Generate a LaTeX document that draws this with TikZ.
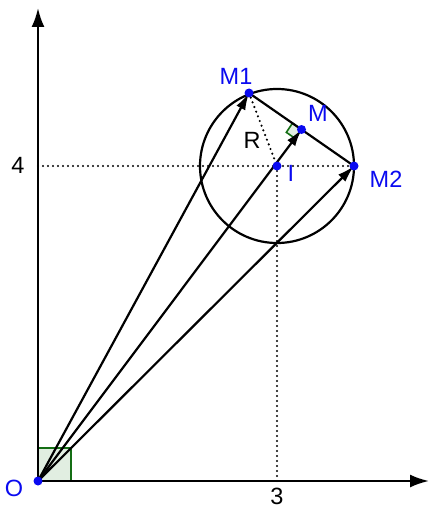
\documentclass[tikz,border=0pt]{standalone}
\usepackage{fontspec}
\setmainfont{Liberation Sans}
\usetikzlibrary{arrows.meta,calc}
\definecolor{ptblue}{RGB}{10,10,240}
\definecolor{anggreen}{RGB}{20,110,20}
\definecolor{angfill}{RGB}{225,238,225}
\tikzset{
  axis/.style={line width=2.3pt,-{Latex[length=19pt,width=13pt]}},
  vec/.style={line width=2.2pt,-{Latex[length=17pt,width=10pt]}},
  guide/.style={line width=2.4pt,dash pattern=on 0pt off 5pt,line cap=round},
  lbl/.style={font=\fontsize{23.5}{26}\selectfont,inner sep=0pt},
  ptlbl/.style={lbl,text=ptblue},
  rangle/.style={draw=anggreen,fill=angfill,line width=1.6pt},
  dot/.style={fill=ptblue}
}
\begin{document}
\begin{tikzpicture}[x=1pt,y=-1pt]
\useasboundingbox (0,0) rectangle (429,508);
\coordinate (O) at (38,481);
\coordinate (I) at (277,166);
\coordinate (M1) at (249,93);
\coordinate (M2) at (354,166);
\coordinate (M) at ($(M1)!0.5!(M2)$);
\coordinate (X) at (429,481);
\coordinate (Y) at (38,8);
\coordinate (Y4) at (38,166);
\coordinate (X3) at (277,481);
\coordinate (Ma) at ($(M)!11pt!(M1)$);
\coordinate (Mb) at ($(M)!11pt!(I)$);
\coordinate (Mc) at ($(Ma)+(Mb)-(M)$);
% right angle at O
\filldraw[rangle] (O) rectangle (71,448);
% axes
\draw[axis] (O) -- (X);
\draw[axis] (O) -- (Y);
% dotted guides
\draw[guide] (Y4) -- (M2);
\draw[guide] (I) -- (X3);
\draw[guide] (M1) -- (I);
% circle
\draw[line width=2.2pt] (I) circle (77);
% right angle at M
\filldraw[rangle] (M) -- (Ma) -- (Mc) -- (Mb) -- cycle;
% chord
\draw[line width=2.2pt] (M1) -- (M2);
% vectors
\draw[vec] (O) -- (M1);
\draw[vec] (O) -- (M);
\draw[vec] (O) -- (M2);
% dots
\foreach \p in {O,I,M1,M,M2} \fill[dot] (\p) circle (4.5);
% labels
\node[lbl] (l4) at (18,165) {4};
\node[lbl] (l3) at (277,496) {3};
\node[ptlbl] (lO) at (14,488) {O};
\node[lbl] (lR) at (252,140) {R};
\node[ptlbl] (lI) at (291,173) {I};
\node[ptlbl] (lM) at (318,113) {M};
\node[ptlbl] (lM1) at (236,76) {M1};
\node[ptlbl] (lM2) at (386,179) {M2};
\end{tikzpicture}
\end{document}
